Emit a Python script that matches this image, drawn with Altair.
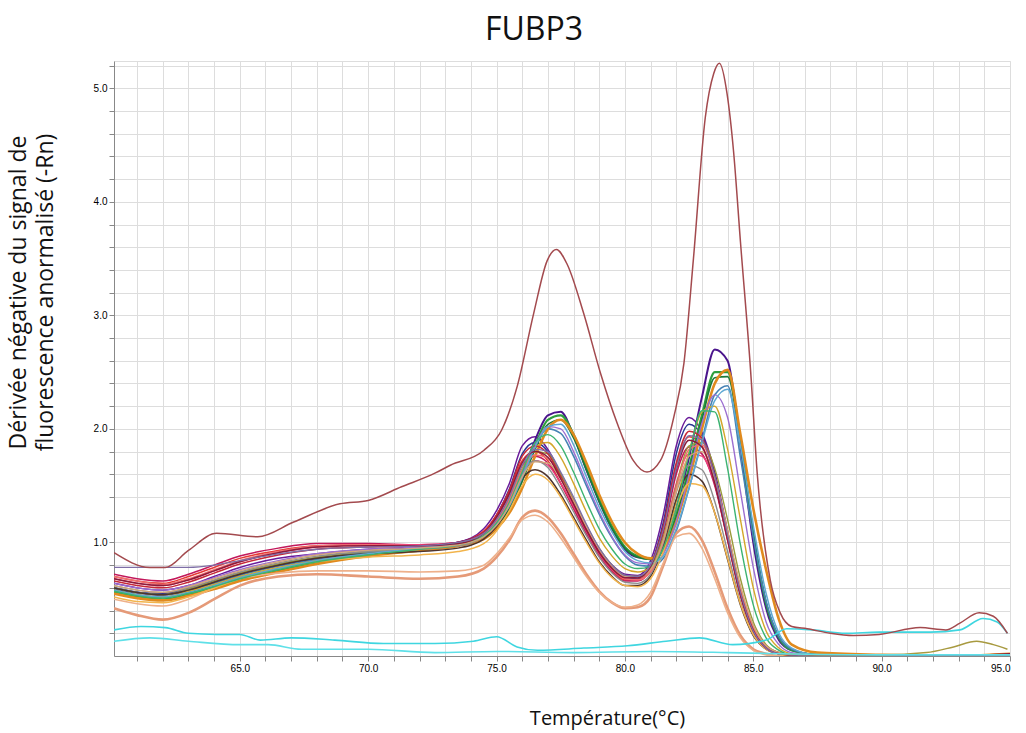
import altair as alt
import pandas as pd

# Shared temperature grid for the main cluster of melt curves (°C)
T_MAIN = [60.1, 61, 62, 63, 64, 65, 66.5, 68, 70, 72, 73.5, 74.5, 75, 75.5, 76, 76.5, 77, 77.5, 78, 78.5,
          79, 79.5, 80, 80.5, 81, 81.5, 82, 82.5, 83, 83.5, 84, 84.5, 85, 85.5, 86, 86.5, 87.5, 90, 92.5, 95]

c01 = [0.64,0.6,0.58,0.62,0.7,0.78,0.86,0.9,0.94,0.96,1.0,1.12,1.28,1.52,1.85,1.93,1.82,1.6,1.36,1.13,0.94,0.8,0.72,0.71,0.84,1.25,1.85,2.1,1.97,1.62,1.1,0.58,0.24,0.08,0.03,0.01,0.0,0.0,0.0,0.0]
c02 = [0.6,0.56,0.55,0.6,0.66,0.73,0.8,0.86,0.9,0.93,0.97,1.08,1.24,1.47,1.78,1.88,1.8,1.58,1.34,1.1,0.9,0.76,0.68,0.68,0.8,1.18,1.78,2.04,1.94,1.6,1.08,0.57,0.23,0.07,0.02,0.01,0.0,0.0,0.0,0.0]
c03 = [0.7,0.66,0.64,0.7,0.78,0.86,0.93,0.97,0.98,0.97,1.0,1.1,1.24,1.45,1.72,1.8,1.72,1.52,1.3,1.08,0.88,0.75,0.67,0.67,0.78,1.12,1.68,1.93,1.85,1.52,1.02,0.53,0.21,0.07,0.02,0.01,0.0,0.0,0.0,0.02]
c04 = [0.72,0.68,0.66,0.72,0.8,0.88,0.95,0.99,0.99,0.98,1.0,1.09,1.22,1.42,1.68,1.76,1.7,1.52,1.3,1.08,0.88,0.74,0.66,0.66,0.76,1.08,1.6,1.84,1.78,1.5,1.02,0.54,0.22,0.07,0.02,0.01,0.0,0.0,0.0,0.0]
c05 = [0.68,0.64,0.62,0.67,0.75,0.83,0.91,0.96,0.98,0.98,1.0,1.08,1.2,1.38,1.62,1.72,1.68,1.52,1.32,1.1,0.9,0.76,0.68,0.67,0.75,1.04,1.52,1.78,1.76,1.52,1.08,0.6,0.26,0.09,0.03,0.01,0.0,0.0,0.0,0.0]
c06 = [0.6,0.56,0.54,0.58,0.65,0.72,0.8,0.86,0.92,0.96,1.0,1.08,1.18,1.34,1.6,1.9,2.12,2.15,1.94,1.64,1.36,1.12,0.94,0.87,0.86,0.98,1.3,1.75,2.28,2.7,2.6,1.85,1.0,0.42,0.14,0.05,0.01,0.0,0.0,0.0]
c07 = [0.56,0.52,0.5,0.54,0.6,0.67,0.75,0.82,0.89,0.94,0.98,1.05,1.15,1.3,1.55,1.85,2.08,2.12,1.95,1.66,1.38,1.14,0.96,0.88,0.86,0.95,1.24,1.66,2.12,2.5,2.5,1.9,1.08,0.46,0.16,0.05,0.01,0.0,0.0,0.0]
c08 = [0.58,0.54,0.52,0.56,0.62,0.69,0.77,0.84,0.9,0.95,0.99,1.06,1.15,1.3,1.54,1.82,2.04,2.08,1.92,1.64,1.36,1.12,0.95,0.87,0.85,0.94,1.22,1.62,2.08,2.45,2.46,1.88,1.08,0.47,0.17,0.06,0.01,0.0,0.0,0.0]
c09 = [0.6,0.56,0.54,0.58,0.64,0.71,0.79,0.85,0.91,0.95,0.99,1.07,1.17,1.34,1.6,1.86,2.0,1.96,1.76,1.5,1.25,1.04,0.88,0.8,0.79,0.86,1.1,1.48,1.9,2.3,2.38,1.75,1.05,0.48,0.17,0.06,0.01,0.0,0.0,0.0]
c10 = [0.55,0.51,0.49,0.53,0.59,0.66,0.74,0.81,0.88,0.93,0.97,1.03,1.12,1.26,1.48,1.76,2.0,2.08,1.95,1.7,1.42,1.18,1.0,0.9,0.86,0.93,1.18,1.56,2.0,2.4,2.52,1.95,1.3,0.76,0.32,0.1,0.03,0.01,0.0,0.02]
c11 = [0.58,0.54,0.52,0.57,0.63,0.7,0.78,0.84,0.9,0.94,0.98,1.06,1.18,1.36,1.62,1.84,1.88,1.75,1.52,1.27,1.04,0.88,0.77,0.74,0.78,0.98,1.36,1.8,2.15,2.2,1.82,1.2,0.6,0.22,0.07,0.02,0.0,0.0,0.0,0.0]
c12 = [0.6,0.56,0.54,0.59,0.66,0.73,0.81,0.87,0.92,0.95,0.98,1.06,1.18,1.38,1.65,1.8,1.78,1.6,1.38,1.15,0.95,0.8,0.71,0.7,0.78,1.05,1.5,1.85,1.88,1.65,1.2,0.68,0.3,0.1,0.03,0.01,0.0,0.0,0.0,0.0]
c13 = [0.6,0.56,0.54,0.58,0.65,0.72,0.8,0.86,0.9,0.92,0.95,1.03,1.14,1.32,1.56,1.64,1.58,1.42,1.22,1.02,0.83,0.7,0.62,0.62,0.7,0.98,1.38,1.6,1.54,1.26,0.85,0.45,0.18,0.06,0.02,0.0,0.0,0.0,0.0,0.0]
c14 = [0.62,0.58,0.56,0.6,0.67,0.74,0.82,0.88,0.92,0.94,0.97,1.05,1.17,1.36,1.62,1.72,1.66,1.48,1.27,1.06,0.87,0.73,0.65,0.64,0.72,1.0,1.44,1.68,1.64,1.36,0.92,0.48,0.19,0.06,0.02,0.0,0.0,0.0,0.0,0.0]
c15 = [0.64,0.6,0.58,0.62,0.69,0.76,0.84,0.9,0.94,0.96,0.99,1.07,1.17,1.33,1.58,1.85,2.02,2.0,1.8,1.53,1.27,1.05,0.89,0.82,0.81,0.9,1.18,1.6,2.05,2.3,2.1,1.45,0.78,0.3,0.1,0.03,0.01,0.0,0.0,0.0]
c16 = [0.7,0.66,0.63,0.68,0.76,0.84,0.92,0.97,0.98,0.97,0.99,1.07,1.19,1.38,1.64,1.77,1.74,1.57,1.36,1.13,0.92,0.77,0.68,0.67,0.74,1.02,1.48,1.82,1.86,1.58,1.1,0.6,0.25,0.08,0.02,0.01,0.0,0.0,0.0,0.0]
c17 = [0.42,0.36,0.32,0.38,0.5,0.62,0.7,0.72,0.7,0.68,0.7,0.77,0.87,1.02,1.22,1.28,1.22,1.08,0.9,0.72,0.57,0.47,0.42,0.43,0.52,0.8,1.08,1.14,1.02,0.74,0.42,0.18,0.06,0.02,0.0,0.0,0.0,0.0,0.0,0.0]
c18 = [0.5,0.46,0.44,0.5,0.6,0.68,0.73,0.75,0.75,0.74,0.75,0.8,0.9,1.04,1.2,1.24,1.18,1.04,0.87,0.7,0.56,0.47,0.43,0.45,0.56,0.82,1.05,1.08,0.95,0.68,0.38,0.16,0.05,0.01,0.0,0.0,0.0,0.0,0.0,0.0]
c19 = [0.52,0.48,0.47,0.52,0.6,0.68,0.77,0.83,0.87,0.89,0.92,0.99,1.1,1.28,1.5,1.6,1.55,1.4,1.2,1.0,0.82,0.69,0.62,0.61,0.68,0.92,1.3,1.52,1.5,1.26,0.86,0.46,0.19,0.06,0.02,0.0,0.0,0.0,0.0,0.0]
c20 = [0.66,0.62,0.6,0.65,0.73,0.81,0.89,0.94,0.96,0.97,1.0,1.09,1.24,1.46,1.76,1.85,1.78,1.58,1.35,1.12,0.92,0.78,0.7,0.69,0.8,1.15,1.7,1.98,1.92,1.58,1.06,0.56,0.23,0.07,0.02,0.01,0.0,0.0,0.0,0.0]
c21 = [0.58,0.54,0.52,0.56,0.62,0.69,0.77,0.84,0.9,0.95,0.99,1.06,1.16,1.32,1.57,1.84,2.02,2.04,1.86,1.58,1.31,1.09,0.92,0.84,0.82,0.88,1.12,1.48,1.88,2.25,2.35,1.85,1.15,0.55,0.2,0.07,0.01,0.0,0.0,0.0]
c22 = [0.57,0.53,0.51,0.55,0.61,0.68,0.76,0.83,0.89,0.94,0.98,1.06,1.17,1.35,1.62,1.88,1.95,1.85,1.62,1.36,1.12,0.94,0.81,0.77,0.79,0.95,1.3,1.78,2.16,2.15,1.65,0.98,0.45,0.16,0.05,0.01,0.0,0.0,0.0,0.0]
c23 = [0.62,0.58,0.56,0.61,0.68,0.75,0.83,0.89,0.93,0.95,0.98,1.05,1.15,1.33,1.58,1.71,1.7,1.56,1.36,1.14,0.94,0.79,0.7,0.69,0.76,1.02,1.45,1.76,1.8,1.56,1.1,0.62,0.27,0.09,0.03,0.01,0.0,0.0,0.0,0.0]
c24 = [0.68,0.64,0.62,0.67,0.75,0.83,0.91,0.96,0.97,0.97,0.99,1.08,1.22,1.43,1.7,1.8,1.75,1.56,1.34,1.11,0.91,0.77,0.69,0.69,0.79,1.12,1.64,1.9,1.84,1.52,1.03,0.54,0.22,0.07,0.02,0.01,0.0,0.0,0.0,0.02]
c25 = [0.78,0.78,0.78,0.78,0.8,0.84,0.9,0.94,0.96,0.97,1.0,1.08,1.2,1.4,1.68,1.82,1.8,1.62,1.4,1.16,0.95,0.8,0.71,0.7,0.8,1.12,1.65,1.94,1.9,1.58,1.06,0.56,0.22,0.07,0.02,0.01,0.0,0.0,0.0,0.0]

# Late small bump (olive) at the right end
T_TAIL = [86, 88, 90, 91.75, 92.8, 93.7, 94.35, 94.9]
V_TAIL = [0.02, 0.01, 0.01, 0.03, 0.08, 0.13, 0.1, 0.06]

# Cyan curves (low signal)
T_CY1 = [60.1, 61.15, 62.1, 63.0, 64.1, 65.0, 65.8, 67.0, 68.7, 70.6, 72.6, 74.1, 75.0, 75.8, 76.6, 78.4, 80.1,
         81.6, 82.9, 84.2, 85.5, 86.3, 87.3, 88.6, 89.9, 91.9, 93.05, 93.95, 94.5, 94.9]
V_CY1 = [0.23, 0.26, 0.25, 0.2, 0.19, 0.19, 0.14, 0.16, 0.14, 0.11, 0.11, 0.13, 0.17, 0.08, 0.05, 0.07, 0.09,
         0.13, 0.16, 0.1, 0.14, 0.24, 0.23, 0.2, 0.21, 0.21, 0.23, 0.33, 0.3, 0.2]
T_CY2 = [60.1, 61.5, 63, 65, 66.1, 67.4, 70, 72.6, 75, 78, 81, 84, 86, 90, 95]
V_CY2 = [0.13, 0.16, 0.13, 0.1, 0.1, 0.06, 0.06, 0.03, 0.04, 0.03, 0.04, 0.03, 0.02, 0.01, 0.01]

# Outlier curve (brown)
T_OUT = [60.1, 61.5, 62.1, 63.0, 64.1, 65.7, 67.1, 68.9, 70.0, 71.3, 72.6, 73.2, 74.5, 75.2, 75.8, 76.45, 76.97,
         77.33, 77.75, 78.39, 79.05, 79.7, 80.33, 80.86, 81.38, 81.9, 82.3, 82.67, 83.13, 83.46, 83.68, 83.98,
         84.23, 84.5, 84.9, 85.15, 85.66, 86.05, 86.5, 87.1, 88.0, 88.9, 89.9, 91.5, 92.5, 93.05, 93.8, 94.35, 94.9]
V_OUT = [0.91, 0.78, 0.78, 0.93, 1.08, 1.05, 1.18, 1.34, 1.37, 1.49, 1.61, 1.68, 1.81, 1.99, 2.37, 3.02, 3.48,
         3.58, 3.45, 3.02, 2.49, 2.05, 1.72, 1.62, 1.72, 2.1, 2.58, 3.5, 4.74, 5.13, 5.22, 4.95,
         4.45, 3.65, 2.5, 1.62, 0.67, 0.38, 0.26, 0.24, 0.2, 0.18, 0.19, 0.25, 0.23, 0.29, 0.38, 0.35, 0.2]

X_TICKS = list(range(61, 96))
Y_TICKS = [0.2, 0.4, 0.6, 0.8, 1.0, 1.2, 1.4, 1.6, 1.8, 2.0, 2.2, 2.4, 2.6, 2.8, 3.0, 3.2, 3.4, 3.6, 3.8, 4.0,
           4.2, 4.4, 4.6, 4.8, 5.0, 5.2]

series = [
    ("c01", T_MAIN, c01, "#6a1b9a", 1.5),
    ("c02", T_MAIN, c02, "#283593", 1.5),
    ("c03", T_MAIN, c03, "#e53935", 1.5),
    ("c04", T_MAIN, c04, "#c2185b", 1.5),
    ("c05", T_MAIN, c05, "#ec407a", 1.4),
    ("c06", T_MAIN, c06, "#4a148c", 2.0),
    ("c07", T_MAIN, c07, "#2e9e3e", 2.2),
    ("c08", T_MAIN, c08, "#1b7a3a", 1.6),
    ("c09", T_MAIN, c09, "#4682b4", 1.6),
    ("c10", T_MAIN, c10, "#e08a1e", 2.6),
    ("c11", T_MAIN, c11, "#d4a62a", 1.4),
    ("c12", T_MAIN, c12, "#9a9a3a", 1.4),
    ("c13", T_MAIN, c13, "#4e342e", 1.5),
    ("c14", T_MAIN, c14, "#8d8d8d", 1.4),
    ("c15", T_MAIN, c15, "#9c6fd0", 1.4),
    ("c16", T_MAIN, c16, "#f07070", 1.4),
    ("c17", T_MAIN, c17, "#e59a78", 2.6),
    ("c18", T_MAIN, c18, "#eeb08a", 1.6),
    ("c19", T_MAIN, c19, "#f2b44c", 1.5),
    ("c20", T_MAIN, c20, "#c62838", 1.5),
    ("c21", T_MAIN, c21, "#5fa8d3", 1.5),
    ("c22", T_MAIN, c22, "#3cb371", 1.4),
    ("c23", T_MAIN, c23, "#d2a679", 1.4),
    ("c24", T_MAIN, c24, "#8b1c3a", 1.5),
    ("c25", T_MAIN, c25, "#7e6ea6", 1.3),
    ("c26", T_TAIL, V_TAIL, "#a89a40", 1.5),
    ("c27", T_CY1, V_CY1, "#3fd6e0", 1.6),
    ("c28", T_CY2, V_CY2, "#5fe0e8", 1.6),
    ("c29", T_OUT, V_OUT, "#a34a4e", 1.5),
]

rows = []
for name, ts, vs, col, w in series:
    for t, v in zip(ts, vs):
        rows.append({"curve": name, "T": t, "v": v, "w": w})
df = pd.DataFrame(rows)

names = [s[0] for s in series]
colors = [s[3] for s in series]

chart = alt.Chart(df).mark_line(interpolate="monotone", clip=True).encode(
    x=alt.X("T:Q",
            scale=alt.Scale(domain=[60.1, 95], nice=False, zero=False),
            axis=alt.Axis(values=X_TICKS,
                          labelExpr="datum.value % 5 == 0 ? format(datum.value, '.1f') : ''",
                          title="Température(°C)",
                          titleFont="Open Sans", titleFontSize=20, titleFontWeight="normal",
                          titleColor="#111",
                          titleX=493, titleY=62, titleBaseline="middle", titleAnchor="start",
                          titleAlign="center")),
    y=alt.Y("v:Q",
            scale=alt.Scale(domain=[0, 5.24], nice=False),
            axis=alt.Axis(values=Y_TICKS,
                          labelExpr="abs(datum.value - round(datum.value)) < 0.01 ? format(datum.value, '.1f') : ''",
                          title=["Dérivée négative du signal de", "fluorescence anormalisé (-Rn)"],
                          titleFont="Open Sans", titleFontSize=23, titleFontWeight="normal",
                          titleColor="#111",
                          titleX=-107, titleY=231, titleAngle=-90, titleBaseline="top",
                          titleAlign="center", titleAnchor="start", titleLineHeight=27)),
    color=alt.Color("curve:N", scale=alt.Scale(domain=names, range=colors), legend=None),
    strokeWidth=alt.StrokeWidth("w:Q", scale=None),
    detail="curve:N",
).properties(
    width=896,
    height=595,
    title=alt.TitleParams("FUBP3", fontSize=32, font="Open Sans", fontWeight="normal", color="#111",
                          anchor="middle", dx=-28, dy=32, offset=21, baseline="alphabetic"),
    autosize=alt.AutoSizeParams(type="none"),
    padding={"left": 114, "top": 61, "right": 16, "bottom": 77},
).configure_view(
    stroke="#555", strokeWidth=1.5
).configure_axis(
    grid=True, gridColor="#c8c8c8", gridWidth=1.3,
    domainColor="#444", domainWidth=2,
    tickColor="#888", tickSize=5, tickWidth=1,
    labelFont="Liberation Sans", labelFontSize=10, labelFontWeight="bold", labelColor="#555",
    labelPadding=6,
).configure(background="white")

chart.save("out.html", embed_options={"renderer": "svg", "actions": False})
